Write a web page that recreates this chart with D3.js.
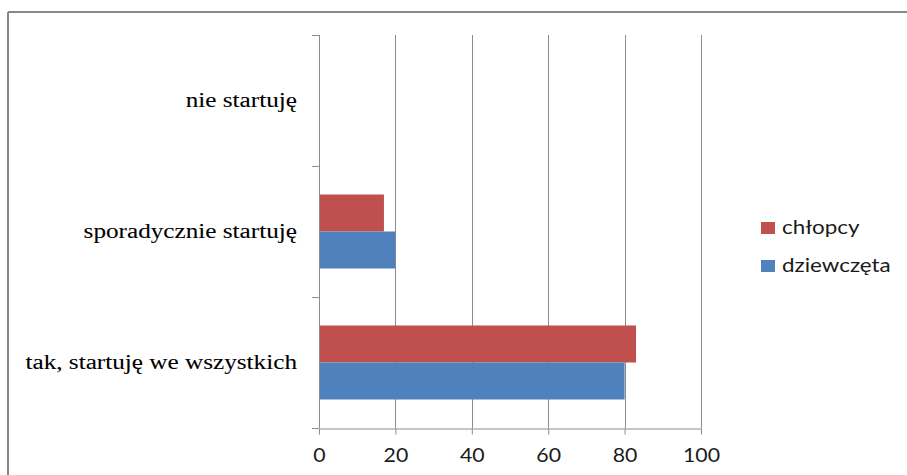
<!DOCTYPE html>
<html>
<head>
<meta charset="utf-8">
<script src="https://cdn.jsdelivr.net/npm/d3@7/dist/d3.min.js"></script>
<style>
  html, body { margin: 0; padding: 0; background: #ffffff; }
  svg { display: block; }
</style>
</head>
<body>
<svg id="chart" width="907" height="475"></svg>
<script>
// Categories, top to bottom
const categories = ["nie startuję", "sporadycznie startuję", "tak, startuję we wszystkich"];
// Series names and colours
const seriesNames = ["chłopcy", "dziewczęta"];
const seriesColors = ["#C0504D", "#4F81BD"];
// Values per series, in category order
const chlopcy = [0, 17, 83];
const dziewczeta = [0, 20, 80];
// Value axis ticks
const xTicks = [0, 20, 40, 60, 80, 100];

const seriesValues = [chlopcy, dziewczeta];

const svg = d3.select("#chart");
const W = 907, H = 475;
const plot = { left: 319, right: 701, top: 35, bottom: 428 };

// Horizontal text stretch used by the chart's labels
function stretch(sel, k) {
  sel.each(function () {
    const len = this.getComputedTextLength();
    d3.select(this).attr("textLength", len * k).attr("lengthAdjust", "spacingAndGlyphs");
  });
}

// Outer frame
svg.append("line").attr("x1", 8).attr("x2", W).attr("y1", 12).attr("y2", 12)
  .attr("stroke", "#878787").attr("stroke-width", 2);
svg.append("line").attr("x1", 8).attr("x2", 8).attr("y1", 12).attr("y2", H)
  .attr("stroke", "#878787").attr("stroke-width", 2);

const x = d3.scaleLinear().domain([0, 100]).range([plot.left, plot.right]);
const y0 = d3.scaleBand().domain(categories).range([plot.top, plot.bottom]).padding(0);
const y1 = d3.scaleBand().domain(seriesNames).range([0, y0.bandwidth()])
  .paddingInner(0).paddingOuter(0.77);

// Vertical gridlines
svg.append("g").selectAll("line").data(xTicks.slice(1)).join("line")
  .attr("x1", d => Math.round(x(d)) + 0.5).attr("x2", d => Math.round(x(d)) + 0.5)
  .attr("y1", plot.top).attr("y2", plot.bottom)
  .attr("stroke", "#8c8c8c").attr("stroke-width", 1);

// Bars
const groups = svg.append("g").selectAll("g").data(categories).join("g")
  .attr("transform", c => `translate(0,${y0(c)})`);
groups.selectAll("rect")
  .data((c, i) => seriesNames.map((s, j) => ({ s, j, v: seriesValues[j][i] })))
  .join("rect")
  .attr("x", x(0))
  .attr("y", d => y1(d.s))
  .attr("width", d => x(d.v) - x(0))
  .attr("height", y1.bandwidth())
  .attr("fill", d => seriesColors[d.j]);

// Bottom axis
const xAxis = svg.append("g").attr("transform", `translate(0,${plot.bottom + 0.5})`)
  .call(d3.axisBottom(x).tickValues(xTicks).tickSize(6).tickSizeOuter(0).tickPadding(14));
xAxis.select(".domain").attr("stroke", "#8c8c8c");
xAxis.selectAll(".tick line").attr("stroke", "#8c8c8c");
xAxis.selectAll(".tick text")
  .attr("font-family", "Lato, 'Open Sans', sans-serif")
  .attr("font-size", 19).attr("fill", "#1a1a1a")
  .call(stretch, 1.12);

// Left axis with band boundary ticks
const leftAxis = svg.append("g");
leftAxis.append("line").attr("x1", plot.left + 0.5).attr("x2", plot.left + 0.5)
  .attr("y1", plot.top).attr("y2", plot.bottom).attr("stroke", "#8c8c8c");
const boundaries = categories.map(c => y0(c)).concat([plot.bottom]);
leftAxis.selectAll(".btick").data(boundaries).join("line")
  .attr("x1", plot.left - 7).attr("x2", plot.left)
  .attr("y1", d => Math.round(d) + 0.5).attr("y2", d => Math.round(d) + 0.5)
  .attr("stroke", "#8c8c8c");

// Category labels
svg.append("g").selectAll("text").data(categories).join("text")
  .attr("x", 297)
  .attr("y", c => y0(c) + y0.bandwidth() / 2 + 6)
  .attr("text-anchor", "end")
  .attr("font-family", "'Liberation Serif', 'Times New Roman', serif")
  .attr("font-size", 20).attr("fill", "#000")
  .attr("stroke", "#000").attr("stroke-width", 0.08)
  .text(c => c)
  .call(stretch, 1.26);

// Legend
const legend = svg.append("g").attr("transform", "translate(761,222)");
const items = legend.selectAll("g").data(seriesNames).join("g")
  .attr("transform", (d, i) => `translate(0,${i * 38})`);
items.append("rect").attr("width", 14).attr("height", 12)
  .attr("fill", (d, i) => seriesColors[i]);
items.append("text").attr("x", 21).attr("y", 12)
  .attr("font-family", "Lato, 'Open Sans', sans-serif")
  .attr("font-size", 20).attr("fill", "#1a1a1a")
  .text(d => d)
  .call(stretch, 1.12);
</script>
</body>
</html>
